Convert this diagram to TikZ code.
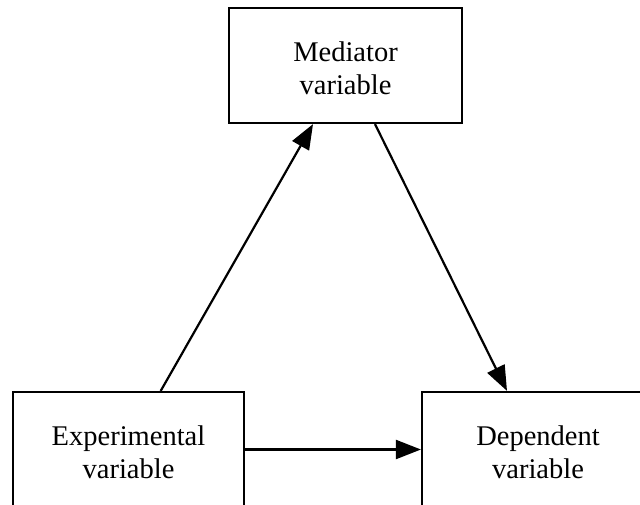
\documentclass[tikz,border=0pt]{standalone}
\usepackage{fontspec}
\setmainfont{Liberation Serif}
\usetikzlibrary{arrows.meta}
\newcommand{\toplift}{\rule{0pt}{25pt}}
\tikzset{
  varbox/.style={draw=black, line width=2.2pt, rectangle, align=center,
    minimum width=232pt, minimum height=115pt, inner sep=0pt,
    font=\fontsize{28.5}{33}\selectfont},
  arr/.style={line width=2.2pt, -{Triangle[length=25pt,width=19pt]}}
}
\begin{document}
\begin{tikzpicture}[x=1pt,y=-1pt]
\useasboundingbox (0,0) rectangle (640,504);
\clip (0,0) rectangle (640,504);
\node[varbox, minimum width=233pt] (med) at (345.5,65.5) {\toplift Mediator\\variable};
\node[varbox, minimum width=231pt] (exp) at (128.5,449.5) {\toplift Experimental\\variable};
\node[varbox] (dep) at (538,449.5) {\toplift Dependent\\variable};
\draw[arr] ([xshift=32.2pt]exp.north) -- ([xshift=-32.5pt]med.south);
\draw[arr] ([xshift=29.5pt]med.south) -- ([xshift=-31pt]dep.north);
\draw[arr] (exp.east) -- (dep.west);
\end{tikzpicture}
\end{document}
